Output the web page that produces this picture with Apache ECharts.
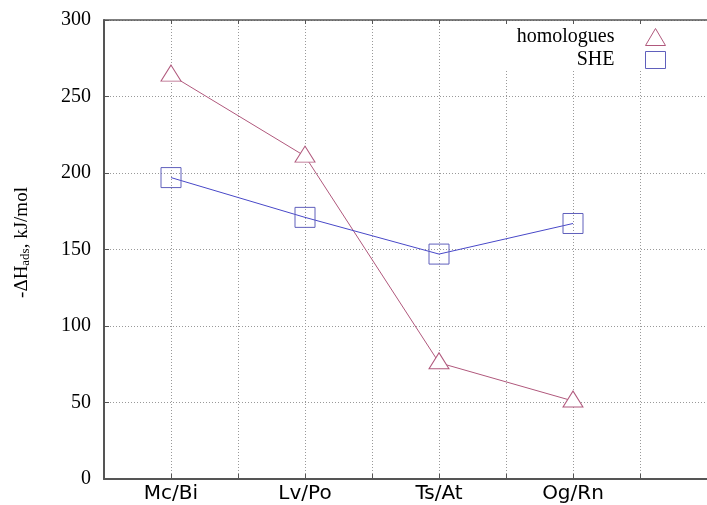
<!DOCTYPE html>
<html>
<head>
<meta charset="utf-8">
<script src="https://cdn.jsdelivr.net/npm/echarts@6/dist/echarts.min.js"></script>
<style>
  html, body { margin: 0; padding: 0; background: #fff; }
  #chart { width: 707px; height: 505px; }
</style>
</head>
<body>
<div id="chart"></div>
<script>
// element pairs along the x axis
var categories = ['Mc/Bi', 'Lv/Po', 'Ts/At', 'Og/Rn'];
// -dH ads, kJ/mol
var homologues = [264, 211, 76, 51];
var she = [197, 171, 147, 167];
var yTicks = [0, 50, 100, 150, 200, 250, 300];

var serif = '"Liberation Serif", "DejaVu Serif", serif';
var sans = '"DejaVu Sans", sans-serif';

// categories sit on the odd grid positions 1,3,5,7 of a 0..9 axis
function toPoints(vals) {
    var out = [];
    for (var i = 0; i < vals.length; i++) {
        out.push([2 * i + 1, vals[i]]);
    }
    return out;
}

var myChart = echarts.init(document.getElementById('chart'));

var option = {
    animation: false,
    grid: {
        left: 104,
        width: 603,
        top: 20,
        bottom: 26,
        outerBoundsMode: 'none',
        show: false
    },
    legend: {
        orient: 'vertical',
        align: 'right',
        right: 7,
        top: 24,
        padding: [3, 34, 1, 34],
        backgroundColor: '#fff',
        itemGap: 3,
        itemWidth: 20,
        itemHeight: 17,
        textStyle: {
            fontFamily: serif,
            fontSize: 20,
            color: '#000',
            padding: [3, 26, 0, 0]
        },
        data: [
            {name: 'homologues', icon: 'triangle',
                itemStyle: {color: '#fff', borderColor: '#b0587c', borderWidth: 1}},
            {name: 'SHE', icon: 'rect',
                itemStyle: {color: '#fff', borderColor: '#6060bc', borderWidth: 1}}
        ]
    },
    xAxis: [{
        type: 'value',
        min: 0,
        max: 9,
        interval: 1,
        axisLine: {show: true, lineStyle: {color: '#555', width: 2}},
        axisTick: {show: true, inside: true, length: 5, lineStyle: {color: '#555'}},
        axisLabel: {
            fontFamily: sans,
            fontSize: 20,
            color: '#000',
            margin: 5,
            formatter: function (v) {
                if (v % 2 === 1) {
                    return categories[(v - 1) / 2] || '';
                }
                return '';
            }
        },
        splitLine: {show: true, lineStyle: {color: '#999', type: [1, 2], width: 1}}
    }, {
        // top border with mirror ticks
        type: 'value',
        position: 'top',
        min: 0,
        max: 9,
        interval: 1,
        axisLine: {show: true, onZero: false, lineStyle: {color: '#555', width: 1.5}},
        axisTick: {show: true, inside: true, length: 4, lineStyle: {color: '#555'}},
        axisLabel: {show: false},
        splitLine: {show: false}
    }],
    yAxis: {
        type: 'value',
        min: yTicks[0],
        max: yTicks[yTicks.length - 1],
        interval: 50,
        name: '{n|-ΔH}{s|ads}{n|, kJ/mol}',
        nameLocation: 'middle',
        nameGap: 72,
        nameTextStyle: {
            padding: [0, 0, 0, 14],
            rich: {
                n: {fontFamily: serif, fontSize: 19, color: '#000'},
                s: {fontFamily: serif, fontSize: 13, color: '#000', verticalAlign: 'bottom', padding: [6, 0, 0, 0]}
            }
        },
        axisLine: {show: true, lineStyle: {color: '#555', width: 2}},
        axisTick: {show: true, inside: true, length: 5, lineStyle: {color: '#555'}},
        axisLabel: {
            fontFamily: serif,
            fontSize: 20,
            color: '#000',
            margin: 13
        },
        splitLine: {show: true, lineStyle: {color: '#999', type: [1, 2], width: 1}}
    },
    series: [{
        name: 'homologues',
        type: 'line',
        data: toPoints(homologues),
        symbol: 'triangle',
        symbolSize: [20, 16],
        symbolOffset: [0, -2],
        showAllSymbol: true,
        lineStyle: {color: '#b0587c', width: 1},
        itemStyle: {color: '#fff', borderColor: '#b0587c', borderWidth: 1},
        z: 3
    }, {
        name: 'SHE',
        type: 'line',
        data: toPoints(she),
        symbol: 'rect',
        symbolSize: 20,
        showAllSymbol: true,
        lineStyle: {color: '#4848c8', width: 1},
        itemStyle: {color: 'rgba(255,255,255,0)', borderColor: '#6060bc', borderWidth: 1},
        z: 3
    }]
};

myChart.setOption(option);
</script>
</body>
</html>
